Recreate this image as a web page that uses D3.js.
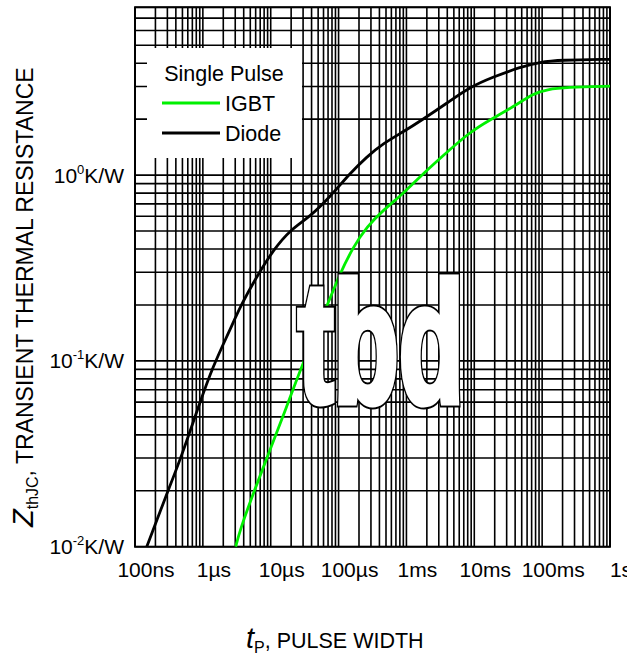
<!DOCTYPE html>
<html>
<head>
<meta charset="utf-8">
<script src="https://cdn.jsdelivr.net/npm/d3@7"></script>
<style>
  html, body { margin: 0; padding: 0; background: #fff; }
  svg { display: block; }
  text { font-family: "Liberation Sans", Arial, Helvetica, sans-serif; fill: #000; }
</style>
</head>
<body>
<svg id="chart" width="640" height="656"></svg>
<script>
// ---- data ----
const diodeT = [1.49e-7, 2.93e-7, 4.88e-7, 8.57e-7, 1.41e-6, 2.51e-6, 3.53e-6, 6.21e-6, 1.09e-5, 1.92e-5, 3.79e-5, 7.48e-5, 1.47e-4, 2.60e-4, 4.56e-4, 9.0e-4, 1.68e-3, 3.96e-3, 8.65e-3, 1.89e-2, 4.72e-2, 9.29e-2, 0.183, 1];
const diodeZ = [0.01, 0.0192, 0.0308, 0.0565, 0.094, 0.1465, 0.1955, 0.284, 0.395, 0.506, 0.597, 0.764, 1.021, 1.254, 1.482, 1.71, 1.977, 2.44, 2.98, 3.37, 3.81, 4.06, 4.16, 4.2];
const igbtT = [3.05e-6, 3.53e-6, 5.53e-6, 9.75e-6, 1.72e-5, 2.70e-5, 6.68e-5, 1.05e-4, 1.65e-4, 2.60e-4, 4.56e-4, 9.0e-4, 1.58e-3, 3.12e-3, 8.65e-3, 1.70e-2, 3.76e-2, 7.41e-2, 0.117, 0.23, 1];
const igbtZ = [0.01, 0.0123, 0.0194, 0.0331, 0.0566, 0.0892, 0.1955, 0.296, 0.411, 0.527, 0.648, 0.797, 0.979, 1.23, 1.71, 1.98, 2.33, 2.75, 2.89, 2.97, 3.01];
const xTickValues = [1e-7, 1e-6, 1e-5, 1e-4, 1e-3, 1e-2, 1e-1, 1];
const xTickLabels = ["100ns", "1µs", "10µs", "100µs", "1ms", "10ms", "100ms", "1s"];
const yTickValues = [0.01, 0.1, 1];
const yTickExponents = ["-2", "-1", "0"];
const legendLabels = ["IGBT", "Diode"];
const legendTitle = "Single Pulse";
const xDomain = [1e-7, 1];
const yDomain = [0.01, 8];

// ---- layout ----
const L = 135, R = 610, T = 7.3, B = 546.7;
const svg = d3.select("#chart");
const x = d3.scaleLog().domain(xDomain).range([L, R]);
const y = d3.scaleLog().domain(yDomain).range([B, T]);

// grid values
const xGrid = [];
for (let n = -7; n < 0; n++) for (let k = 1; k <= 9; k++) xGrid.push(k * Math.pow(10, n));
xGrid.push(1);
const yGrid = [];
for (let n = -2; n <= 0; n++) for (let k = 1; k <= 9; k++) { const v = k * Math.pow(10, n); if (v <= yDomain[1] * 1.0001) yGrid.push(v); }

const grid = svg.append("g").attr("stroke", "#000").attr("stroke-width", 1.6);
grid.selectAll("line.v").data(xGrid).join("line").attr("class", "v")
  .attr("x1", d => x(d)).attr("x2", d => x(d)).attr("y1", T).attr("y2", B);
grid.selectAll("line.h").data(yGrid).join("line").attr("class", "h")
  .attr("x1", L).attr("x2", R).attr("y1", d => y(d)).attr("y2", d => y(d));

svg.append("rect").attr("x", L).attr("y", T).attr("width", R - L).attr("height", B - T)
  .attr("fill", "none").attr("stroke", "#000").attr("stroke-width", 2);

// curves
const line = d3.line().x(d => x(d[0])).y(d => y(d[1])).curve(d3.curveBasis);
const diode = diodeT.map((t, i) => [t, diodeZ[i]]);
const igbt = igbtT.map((t, i) => [t, igbtZ[i]]);
svg.append("path").attr("d", line(diode)).attr("fill", "none").attr("stroke", "#000").attr("stroke-width", 2.8);
svg.append("path").attr("d", line(igbt)).attr("fill", "none").attr("stroke", "#00f000").attr("stroke-width", 2.8);

// legend
svg.append("rect").attr("x", 147).attr("y", 48).attr("width", 155).attr("height", 110).attr("fill", "#fff");
svg.append("text").attr("x", 224).attr("y", 81).attr("text-anchor", "middle").attr("font-size", 21.5).text(legendTitle);
const legendColors = ["#00f000", "#000"];
legendLabels.forEach((lab, i) => {
  const ly = 103 + i * 30;
  svg.append("line").attr("x1", 162).attr("x2", 220).attr("y1", ly).attr("y2", ly)
    .attr("stroke", legendColors[i]).attr("stroke-width", 2.8);
  svg.append("text").attr("x", 225).attr("y", ly + 8).attr("font-size", 21.5).text(lab);
});

// tbd watermark: heavy condensed letters, white with black outline
const wm = { x: 298, y: 401.5, size: 170, len: 166 };
[["#000", 11], ["#fff", 7]].forEach(([col, sw]) => {
  svg.append("text").attr("x", wm.x).attr("y", wm.y)
    .attr("font-size", wm.size).attr("font-weight", "bold")
    .attr("textLength", wm.len).attr("lengthAdjust", "spacingAndGlyphs")
    .style("fill", col).attr("stroke", col).attr("stroke-width", sw)
    .attr("stroke-linejoin", "miter")
    .text("tbd");
});

// x tick labels
svg.append("g").selectAll("text").data(xTickValues).join("text")
  .attr("x", d => x(d) + 11).attr("y", 577).attr("text-anchor", "middle").attr("font-size", 21)
  .text((d, i) => xTickLabels[i]);

// y tick labels
yTickValues.forEach((v, i) => {
  const t = svg.append("text").attr("x", 124).attr("y", y(v) + 7.5).attr("text-anchor", "end").attr("font-size", 21);
  t.append("tspan").text("10");
  t.append("tspan").attr("font-size", 13).attr("dy", -9).text(yTickExponents[i]);
  t.append("tspan").attr("dy", 9).text("K/W");
});

// clip right edge like the reference
svg.append("rect").attr("x", 627).attr("y", 550).attr("width", 13).attr("height", 40).attr("fill", "#fff");

// axis titles
const yt = svg.append("text").attr("transform", "translate(33,527) rotate(-90)").attr("font-size", 23);
yt.append("tspan").attr("font-style", "italic").attr("font-size", 29).text("Z");
yt.append("tspan").attr("font-size", 16).attr("dy", 5).text("thJC");
yt.append("tspan").attr("dy", -5).text(",  TRANSIENT THERMAL RESISTANCE");

const xt = svg.append("text").attr("x", 246).attr("y", 648).attr("font-size", 21.5);
xt.append("tspan").attr("font-style", "italic").attr("font-size", 29).text("t");
xt.append("tspan").attr("font-size", 16).attr("dy", 5).text("P");
xt.append("tspan").attr("dy", -5).text(", PULSE WIDTH");
</script>
</body>
</html>
